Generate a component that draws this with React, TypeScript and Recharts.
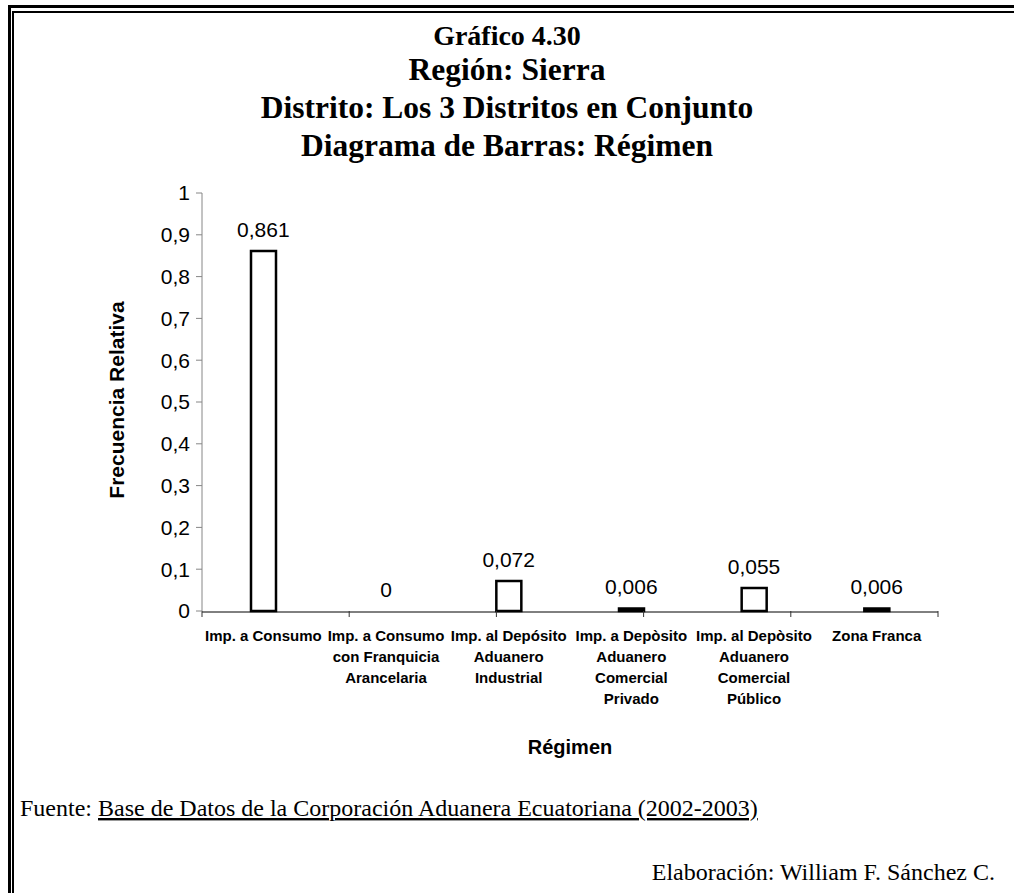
import { ComposedChart, Bar, Line, XAxis, YAxis, LabelList } from "recharts";

const categories = [
  "Imp. a Consumo",
  "Imp. a Consumo\ncon Franquicia\nArancelaria",
  "Imp. al Depósito\nAduanero\nIndustrial",
  "Imp. a Depòsito\nAduanero\nComercial\nPrivado",
  "Imp. al Depòsito\nAduanero\nComercial\nPúblico",
  "Zona Franca",
];
const frecuencia = [0.861, 0, 0.072, 0.006, 0.055, 0.006];
const yTicks = [0, 0.1, 0.2, 0.3, 0.4, 0.5, 0.6, 0.7, 0.8, 0.9, 1];
const bandTicks = [0, 1, 2, 3, 4, 5, 6];

const data = categories.map((c, i) => ({ regimen: c, valor: frecuencia[i] }));

const sans = "'Liberation Sans', Arial, sans-serif";
const serif = "'Liberation Serif', 'Times New Roman', serif";

const comma = (v: any) => String(v).replace(".", ",");

const CatTick = (props: any) => {
  const { x, y, payload } = props;
  const lines = String(payload.value).split("\n");
  return (
    <text x={x} y={y} textAnchor="middle" fontFamily={sans} fontWeight="bold" fontSize={15} fill="#000">
      {lines.map((l, i) => (
        <tspan key={i} x={x} dy={21}>
          {l}
        </tspan>
      ))}
    </text>
  );
};

const line = (s: any) => ({ position: "absolute" as const, background: "#000", ...s });

export default function App() {
  return (
    <div style={{ position: "absolute", left: 0, top: 0, width: 1014, height: 893, background: "#fff", overflow: "hidden" }}>
      {/* double frame */}
      <div style={line({ left: 8, top: 5, right: 0, height: 3 })} />
      <div style={line({ left: 12, top: 11, right: 0, height: 2 })} />
      <div style={line({ left: 8, top: 5, width: 3, bottom: 0 })} />
      <div style={line({ left: 12, top: 11, width: 2, bottom: 0 })} />

      <div style={{ position: "absolute", left: 0, top: 0 }}>
        <ComposedChart width={1014} height={893} data={data} margin={{ top: 193, right: 76, bottom: 280, left: 142 }}>
          <XAxis
            xAxisId="cat"
            dataKey="regimen"
            height={1}
            interval={0}
            tickLine={false}
            tickSize={6}
            tickMargin={2}
            axisLine={{ stroke: "#000" }}
            tick={<CatTick />}
          />
          <XAxis
            xAxisId="band"
            type="number"
            domain={[0, 6]}
            ticks={bandTicks}
            height={1}
            axisLine={false}
            tickSize={6}
            tickLine={{ stroke: "#333" }}
            tickFormatter={() => ""}
          />
          <YAxis
            type="number"
            domain={[0, 1]}
            ticks={yTicks}
            width={60}
            tickSize={6}
            tickMargin={6}
            tickFormatter={comma}
            axisLine={{ stroke: "#868686" }}
            tickLine={{ stroke: "#868686" }}
            tick={{ fontSize: 21, fill: "#000", fontFamily: sans }}
          />
          <Bar xAxisId="cat" dataKey="valor" fill="#fff" stroke="#000" strokeWidth={2.5} barSize={25} isAnimationActive={false} />
          <Line
            xAxisId="cat"
            dataKey="valor"
            stroke="none"
            dot={false}
            activeDot={false}
            legendType="none"
            isAnimationActive={false}
          >
            <LabelList
              dataKey="valor"
              position="top"
              offset={14}
              formatter={comma}
              style={{ fontSize: 21, fill: "#000", fontFamily: sans }}
            />
          </Line>
        </ComposedChart>
      </div>

      <svg width={1014} height={893} style={{ position: "absolute", left: 0, top: 0, pointerEvents: "none" }}>
        <g fontFamily={serif} fontWeight="bold" textAnchor="middle" fill="#000">
          <text x={507} y={45} fontSize={28}>Gráfico 4.30</text>
          <text x={507} y={80} fontSize={31.5}>Región: Sierra</text>
          <text x={507} y={118} fontSize={31.5}>Distrito: Los 3 Distritos en Conjunto</text>
          <text x={507} y={156} fontSize={31.5}>Diagrama de Barras: Régimen</text>
        </g>
        <text x={124} y={400} transform="rotate(-90, 124, 400)" textAnchor="middle" fontFamily={sans} fontWeight="bold" fontSize={21}>
          Frecuencia Relativa
        </text>
        <text x={570} y={754} textAnchor="middle" fontFamily={sans} fontWeight="bold" fontSize={20}>
          Régimen
        </text>
        <text x={20} y={816} fontFamily={serif} fontSize={24}>
          Fuente: <tspan textDecoration="underline" style={{ textDecoration: "underline" }}>Base de Datos de la Corporación Aduanera Ecuatoriana (2002-2003)</tspan>
        </text>
        <text x={995} y={880} textAnchor="end" fontFamily={serif} fontSize={24}>
          Elaboración: William F. Sánchez C.
        </text>
      </svg>
    </div>
  );
}
